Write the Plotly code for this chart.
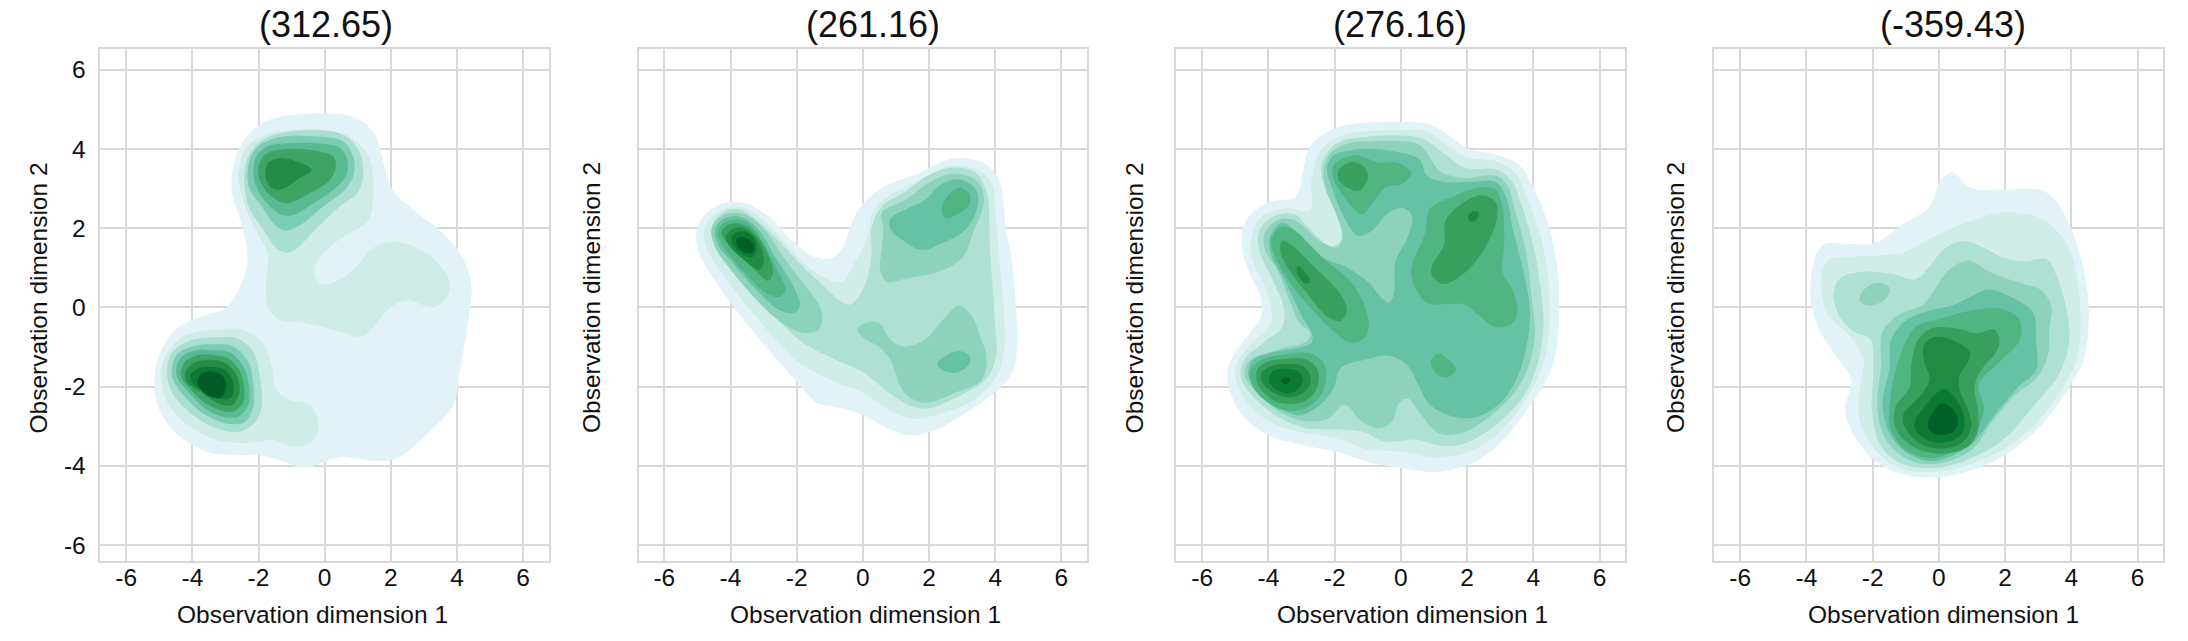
import plotly.graph_objects as go

# ---- text -------------------------------------------------------------
panel_titles = ["(312.65)", "(261.16)", "(276.16)", "(-359.43)"]
x_label = "Observation dimension 1"
y_label = "Observation dimension 2"
tick_values = [-6, -4, -2, 0, 2, 4, 6]
tick_labels = ["-6", "-4", "-2", "0", "2", "4", "6"]

# ---- density band colours, light to dark -------------------------------
bands_panel1 = ["#e1f3f6", "#cfede6", "#a9dfd1", "#7ccbb3", "#58ba90", "#3ca566", "#238c47", "#0a7a36", "#005c26"]
bands_other = ["#e1f3f7", "#d0eee7", "#aee0d3", "#8dd3bc", "#66c2a4", "#4fb581", "#38a05f", "#1f8b45", "#0a7a35", "#005f27"]

# ---- density contours, (dim1, dim2) -----------------------------------
# Panel 1
p1_l1 = [(0,4.9),(.98,4.77),(1.52,4.36),(1.79,3.63),(2.06,2.96),(2.71,2.45),(3.57,1.88),(4.17,1.26),(4.44,.54),(4.33,-.39),(4.06,-1.73),(3.9,-2.46),(3.25,-3.08),(2.39,-3.7),(1.9,-3.87),(.98,-3.82),(.55,-3.77),(0,-3.9),(-.64,-4.04),(-1.29,-3.88),(-1.99,-3.73),(-2.8,-3.73),(-3.55,-3.65),(-4.42,-3.23),(-5.01,-2.56),(-5.15,-1.84),(-4.96,-1.12),(-4.42,-.5),(-3.66,-.21),(-3.01,-.03),(-2.58,.49),(-2.33,1.16),(-2.47,1.98),(-2.8,2.91),(-2.74,3.64),(-2.36,4.31),(-1.72,4.72),(-.85,4.87)]
p1_l2a = [(0,4.48),(.87,4.25),(1.36,3.74),(1.47,2.91),(1.31,2.19),(.55,1.78),(-.1,1.31),(-.31,.95),(-.15,.59),(.44,.69),(.98,1.05),(1.41,1.47),(1.95,1.65),(2.6,1.57),(3.25,1.26),(3.74,.74),(3.74,.33),(3.3,0),(2.49,.18),(1.95,-.03),(1.47,-.5),(1.09,-.75),(.44,-.6),(-.64,-.39),(-1.39,-.29),(-1.72,.02),(-1.77,.64),(-1.72,1.36),(-2.04,1.88),(-2.47,2.71),(-2.6,3.43),(-2.36,4.05),(-1.72,4.38),(-.85,4.48)]
p1_l2b = [(-3.27,-.56),(-2.46,-.57),(-1.85,-.91),(-1.6,-1.5),(-1.45,-2.09),(-1.05,-2.34),(-.44,-2.47),(-.19,-2.93),(-.34,-3.35),(-.95,-3.52),(-1.55,-3.35),(-2.36,-3.43),(-3.27,-3.35),(-4.07,-3.01),(-4.68,-2.51),(-4.93,-1.92),(-4.83,-1.25),(-4.27,-.74)]
p1_l3a = [(-.04,4.47),(.56,4.36),(1.02,3.98),(1.17,3.48),(1.02,2.93),(.46,2.55),(-.34,1.92),(-.84,1.49),(-1.15,1.38),(-1.45,1.49),(-1.85,1.96),(-2.3,2.55),(-2.43,3.14),(-2.35,3.73),(-1.95,4.19),(-1.15,4.43)]
p1_l3b = [(-3.37,-.76),(-2.66,-.78),(-2.16,-1.12),(-1.96,-1.75),(-1.89,-2.42),(-2.06,-2.85),(-2.56,-3.14),(-3.27,-3.06),(-3.97,-2.72),(-4.53,-2.26),(-4.76,-1.75),(-4.63,-1.16),(-4.07,-.84)]
p1_l4a = [(-.04,4.3),(.56,4.19),(.86,3.81),(.88,3.35),(.61,2.97),(-.04,2.55),(-.74,2.08),(-1.2,1.94),(-1.5,2.08),(-1.9,2.55),(-2.28,3.01),(-2.31,3.56),(-2.05,4.04),(-1.35,4.3)]
p1_l4b = [(-3.37,-.93),(-2.76,-.99),(-2.31,-1.37),(-2.16,-1.92),(-2.16,-2.51),(-2.41,-2.89),(-2.96,-2.93),(-3.67,-2.68),(-4.27,-2.21),(-4.62,-1.71),(-4.48,-1.2),(-3.97,-.98)]
p1_l5a = [(-.04,4.13),(.46,4.03),(.68,3.73),(.66,3.35),(.36,3.04),(-.24,2.68),(-.94,2.34),(-1.25,2.32),(-1.6,2.51),(-2.0,2.93),(-2.15,3.35),(-2.07,3.81),(-1.75,4.06),(-.95,4.15)]
p1_l5b = [(-3.37,-1.08),(-2.86,-1.14),(-2.46,-1.5),(-2.29,-1.96),(-2.31,-2.47),(-2.61,-2.76),(-3.06,-2.76),(-3.62,-2.55),(-4.12,-2.13),(-4.48,-1.71),(-4.37,-1.29),(-3.92,-1.09)]
p1_l6a = [(-.14,3.94),(.26,3.81),(.34,3.56),(.16,3.22),(-.44,2.89),(-1.15,2.63),(-1.6,2.8),(-1.95,3.18),(-2.0,3.52),(-1.8,3.86),(-1.15,4.0)]
p1_l6b = [(-3.37,-1.2),(-2.91,-1.29),(-2.56,-1.62),(-2.43,-2.05),(-2.48,-2.42),(-2.76,-2.63),(-3.17,-2.59),(-3.67,-2.38),(-4.07,-2.05),(-4.35,-1.71),(-4.22,-1.37),(-3.82,-1.2)]
p1_l7a = [(-1.35,3.77),(-.89,3.69),(-.39,3.48),(-.84,3.22),(-1.35,2.97),(-1.65,3.05),(-1.8,3.35),(-1.7,3.65)]
p1_l7b = [(-3.42,-1.33),(-2.96,-1.43),(-2.64,-1.75),(-2.58,-2.17),(-2.81,-2.47),(-3.22,-2.42),(-3.77,-2.13),(-4.17,-1.88),(-4.22,-1.67),(-3.97,-1.41)]
p1_l8 = [(-3.47,-1.5),(-3.01,-1.58),(-2.76,-1.92),(-2.81,-2.26),(-3.17,-2.31),(-3.62,-2.13),(-4.02,-1.88),(-4.07,-1.71),(-3.82,-1.54)]
p1_l9 = [(-3.52,-1.62),(-3.11,-1.71),(-2.98,-1.96),(-3.11,-2.26),(-3.42,-2.27),(-3.72,-2.09),(-3.85,-1.88),(-3.77,-1.71)]

# Panel 2
p2_l1 = [(2.7,3.76),(3.53,3.69),(4.05,3.33),(4.26,2.6),(4.31,1.98),(4.47,1.36),(4.63,.02),(4.66,-1.01),(4.52,-1.63),(4.05,-2.1),(3.01,-2.72),(2.08,-3.13),(1.46,-3.23),(.83,-3.08),(0,-2.72),(-.83,-2.51),(-1.4,-2.41),(-1.87,-1.99),(-2.7,-1.22),(-3.53,-.39),(-4.26,.43),(-4.89,1.26),(-5.04,1.83),(-4.83,2.29),(-4.31,2.6),(-3.64,2.65),(-2.91,2.34),(-2.18,1.72),(-1.56,1.31),(-.94,1.24),(-.57,1.57),(-.26,2.29),(.16,2.76),(.83,3.12),(1.66,3.38)]
p2_l2 = [(2.7,3.58),(3.43,3.48),(3.9,3.12),(4.0,2.5),(4.11,1.36),(4.26,-.08),(4.28,-1.01),(4.05,-1.73),(3.33,-2.35),(2.18,-2.72),(1.56,-2.82),(.83,-2.61),(0,-2.15),(-.83,-1.89),(-1.87,-1.43),(-2.7,-.75),(-3.53,.07),(-4.26,.85),(-4.73,1.52),(-4.8,1.93),(-4.57,2.29),(-4.05,2.53),(-3.53,2.5),(-2.91,2.14),(-2.18,1.47),(-1.46,.9),(-.62,.64),(-.31,1.05),(.1,1.67),(.36,2.5),(.99,2.91),(1.98,3.33)]
p2_l3 = [(2.81,3.53),(3.43,3.38),(3.74,2.91),(3.85,1.36),(4.0,-.5),(4.03,-1.22),(3.74,-1.79),(3.01,-2.2),(1.87,-2.56),(1.25,-2.41),(.62,-2.04),(0,-1.63),(-.83,-1.32),(-1.87,-.86),(-2.7,-.19),(-3.53,.64),(-4.26,1.31),(-4.57,1.78),(-4.52,2.14),(-4.11,2.45),(-3.64,2.45),(-2.91,1.98),(-2.08,1.26),(-1.25,.59),(-.42,.07),(.05,.54),(.26,1.36),(.26,1.98),(.57,2.55),(1.25,2.91),(2.08,3.38)]
p2_l4a = [(2.81,3.38),(3.48,3.17),(3.66,2.71),(3.33,1.88),(3.01,1.26),(2.29,.9),(1.35,.74),(.73,.64),(.52,.95),(.57,1.47),(.62,1.98),(.57,2.39),(1.25,2.7),(2.14,3.22)]
p2_l4b = [(2.91,.04),(3.27,-.19),(3.58,-.81),(3.74,-1.27),(3.58,-1.84),(2.81,-2.15),(1.87,-2.41),(1.25,-2.15),(.83,-1.32),(.52,-1.01),(0,-.75),(-.16,-.55),(.1,-.39),(.47,-.39),(.83,-.81),(1.25,-.99),(1.87,-.81),(2.39,-.34)]
p2_l4c = [(-1.22,-.24),(-1.35,-.57),(-1.8,-.64),(-2.5,-.36),(-3.31,.27),(-4.02,.98),(-4.47,1.53),(-4.57,1.96),(-4.37,2.25),(-3.92,2.39),(-3.42,2.29),(-2.91,1.91),(-2.41,1.28),(-1.8,.61),(-1.35,.1)]
p2_l5a = [(2.91,3.23),(3.38,3.02),(3.48,2.6),(3.12,1.98),(2.39,1.62),(1.77,1.45),(1.25,1.67),(.83,1.98),(.83,2.24),(1.35,2.5),(1.87,2.71),(2.39,3.12)]
p2_l5b = [(2.91,-1.1),(3.22,-1.22),(3.22,-1.43),(2.81,-1.65),(2.39,-1.58),(2.25,-1.43),(2.55,-1.2)]
p2_l5c = [(-1.9,.06),(-2.05,-.13),(-2.51,-.07),(-3.21,.44),(-3.92,1.11),(-4.37,1.57),(-4.47,1.95),(-4.27,2.21),(-3.87,2.31),(-3.46,2.2),(-3.06,1.87),(-2.66,1.28),(-2.2,.69)]
p2_l6a = [(2.91,3.03),(3.22,2.86),(3.22,2.6),(2.91,2.38),(2.49,2.26),(2.39,2.5),(2.55,2.81)]
p2_l6c = [(-2.33,.44),(-2.51,.27),(-2.91,.35),(-3.51,.82),(-4.07,1.36),(-4.34,1.7),(-4.37,1.95),(-4.17,2.16),(-3.82,2.22),(-3.46,2.12),(-3.11,1.78),(-2.76,1.24),(-2.46,.73)]
p2_l7 = [(-2.71,.9),(-2.86,.67),(-3.21,.9),(-3.72,1.32),(-4.17,1.7),(-4.27,1.91),(-4.07,2.08),(-3.77,2.12),(-3.41,1.99),(-3.11,1.7),(-2.86,1.32)]
p2_l8 = [(-2.99,1.2),(-3.11,.96),(-3.51,1.15),(-3.97,1.49),(-4.14,1.74),(-3.97,1.97),(-3.67,2.02),(-3.31,1.83),(-3.11,1.57)]
p2_l9 = [(-3.21,1.55),(-3.31,1.28),(-3.62,1.32),(-3.92,1.57),(-3.97,1.77),(-3.82,1.89),(-3.56,1.91),(-3.33,1.78)]
p2_l10 = [(-3.28,1.57),(-3.33,1.38),(-3.56,1.38),(-3.8,1.57),(-3.82,1.72),(-3.67,1.78),(-3.45,1.72)]

# Panel 3
p3_l1 = [(0,4.69),(.88,4.62),(1.51,4.31),(2.03,4.0),(2.86,3.86),(3.59,3.58),(4.0,3.02),(4.42,2.19),(4.73,.95),(4.78,-.19),(4.63,-1.32),(4.31,-1.99),(3.9,-2.46),(3.17,-3.28),(2.44,-3.8),(1.72,-4.06),(.99,-4.16),(.05,-4.06),(-.99,-3.9),(-1.92,-3.65),(-2.86,-3.49),(-4,-3.23),(-4.73,-2.77),(-5.15,-2.15),(-5.23,-1.58),(-4.99,-1.12),(-4.52,-.6),(-4.21,-.19),(-4.26,.33),(-4.57,.85),(-4.8,1.57),(-4.68,2.19),(-4,2.65),(-3.17,2.81),(-2.96,3.43),(-2.75,4.05),(-2.03,4.51),(-.99,4.67)]
p3_l2 = [(0,4.48),(.78,4.44),(1.4,4.1),(1.98,3.79),(2.86,3.69),(3.48,3.38),(3.79,2.81),(4.16,1.98),(4.42,.95),(4.5,-.19),(4.37,-1.22),(3.9,-2.15),(3.07,-3.08),(2.34,-3.54),(1.61,-3.75),(.88,-3.78),(.05,-3.65),(-.99,-3.59),(-1.82,-3.34),(-2.86,-3.18),(-3.9,-2.92),(-4.63,-2.41),(-4.94,-1.94),(-4.99,-1.53),(-4.63,-1.01),(-4,-.5),(-3.9,-.19),(-4.11,.54),(-4.47,1.16),(-4.54,1.67),(-4.21,2.29),(-3.48,2.5),(-2.75,2.45),(-2.7,3.22),(-2.44,3.95),(-1.72,4.36),(-.78,4.46)]
p3_l3 = [(0,4.34),(.68,4.25),(1.3,3.89),(1.92,3.53),(2.86,3.48),(3.33,3.22),(3.64,2.6),(4,1.57),(4.21,.54),(4.31,-.39),(4.16,-1.32),(3.74,-2.2),(2.86,-2.97),(1.92,-3.44),(1.2,-3.49),(.47,-3.34),(-.47,-3.39),(-1.2,-3.13),(-2.23,-3.08),(-2.96,-3.03),(-3.9,-2.66),(-4.52,-2.2),(-4.84,-1.73),(-4.72,-1.32),(-4.11,-.86),(-3.59,-.5),(-3.53,-.03),(-3.9,.74),(-4.29,1.47),(-4.26,1.98),(-3.74,2.34),(-3.17,2.34),(-2.86,2.09),(-2.13,1.55),(-1.77,1.72),(-1.92,2.29),(-2.34,3.12),(-2.39,3.64),(-1.92,4.15),(-.99,4.31)]
p3_l4 = [(0,4.2),(.57,4.1),(1.2,3.43),(1.92,3.27),(2.86,3.33),(3.22,3.07),(3.43,2.5),(3.79,1.36),(3.95,.23),(4.05,-.7),(3.79,-1.63),(3.38,-2.2),(2.65,-2.77),(1.82,-3.18),(1.14,-3.18),(.57,-2.66),(.21,-2.3),(-.05,-2.41),(-.26,-2.87),(-.68,-3.06),(-1.2,-2.87),(-1.69,-2.46),(-2.23,-2.82),(-2.96,-2.87),(-3.79,-2.56),(-4.31,-2.15),(-4.72,-1.73),(-4.6,-1.37),(-3.69,-1.06),(-2.86,-.86),(-2.73,-.65),(-3.07,-.39),(-3.33,.12),(-3.74,.95),(-4.11,1.47),(-4.11,1.88),(-3.69,2.22),(-3.17,2.19),(-2.44,1.67),(-1.92,1.52),(-1.77,1.78),(-1.92,2.29),(-2.23,2.91),(-2.34,3.43),(-2.13,3.89),(-1.51,4.15),(-.68,4.2)]
p3_l5 = [(-1.51,3.97),(-.68,4.0),(.05,3.89),(.57,3.74),(.78,3.33),(1.3,3.17),(2.13,3.17),(2.86,3.17),(3.17,2.81),(3.38,1.98),(3.69,.95),(3.9,-.08),(3.79,-1.01),(3.48,-1.84),(3.01,-2.41),(2.34,-2.75),(1.72,-2.79),(.88,-2.46),(.52,-1.94),(.16,-1.43),(-.36,-1.22),(-1.09,-1.32),(-1.82,-1.53),(-2.03,-2.04),(-2.44,-2.46),(-3.07,-2.72),(-3.79,-2.45),(-4.21,-2.1),(-4.6,-1.73),(-4.5,-1.35),(-3.9,-1.14),(-3.07,-1.01),(-2.7,-.89),(-2.67,-.7),(-3.01,-.19),(-3.48,.64),(-3.93,1.36),(-3.95,1.78),(-3.59,2.14),(-2.86,1.67),(-2.34,1.26),(-1.61,1.0),(-.99,.64),(-.57,.23),(-.36,.12),(-.21,.33),(-.16,1.16),(.21,1.78),(.34,2.29),(.1,2.5),(-.36,2.4),(-.88,1.93),(-1.3,1.81),(-1.66,2.19),(-2.03,2.91),(-2.23,3.53),(-2.03,3.84)]
p3_l6a = [(-1.4,3.84),(-.68,3.66),(-.05,3.64),(.31,3.38),(.05,3.12),(-.47,3.02),(-.88,2.6),(-1.18,2.35),(-1.5,2.56),(-1.82,2.92),(-2.03,3.23),(-2.03,3.59)]
p3_l6b = [(2.34,3.02),(2.86,2.97),(3.07,2.5),(3.12,1.57),(3.07,.9),(3.38,.43),(3.53,-.08),(3.38,-.39),(2.86,-.5),(2.34,-.19),(1.92,.07),(.78,.12),(.42,.54),(.31,.95),(.73,1.88),(.88,2.5),(1.61,2.81)]
p3_l6c = [(1.14,-1.17),(1.51,-1.37),(1.66,-1.58),(1.4,-1.76),(1.09,-1.68),(.91,-1.37)]
p3_l6d = [(-3.64,2.03),(-3.28,1.98),(-2.44,1.31),(-1.51,.64),(-1.2,.23),(-.97,-.39),(-1.09,-.75),(-1.51,-.89),(-2.03,-.6),(-2.65,-.08),(-3.28,.54),(-3.79,1.27),(-3.92,1.68)]
p3_l6e = [(-3.46,-1.18),(-2.76,-1.16),(-2.36,-1.37),(-2.26,-1.75),(-2.41,-2.21),(-2.91,-2.55),(-3.56,-2.59),(-4.17,-2.3),(-4.52,-1.92),(-4.52,-1.54),(-4.12,-1.29)]
p3_l7a = [(-1.46,3.67),(-1.09,3.53),(-.99,3.27),(-1.25,2.96),(-1.56,3.0),(-1.87,3.22),(-1.87,3.48)]
p3_l7b = [(2.44,2.83),(2.86,2.65),(2.91,2.29),(2.65,1.67),(2.03,.95),(1.3,.59),(.94,.8),(.94,1.05),(1.3,1.57),(1.35,2.19),(1.72,2.55)]
p3_l7d = [(-3.59,1.67),(-3.33,1.59),(-2.65,1.05),(-1.82,.33),(-1.63,-.08),(-1.82,-.34),(-2.23,-.23),(-2.86,.38),(-3.38,.95),(-3.64,1.42)]
p3_l7e = [(-3.46,-1.3),(-2.86,-1.31),(-2.54,-1.54),(-2.48,-1.83),(-2.66,-2.21),(-3.11,-2.42),(-3.67,-2.41),(-4.12,-2.17),(-4.35,-1.88),(-4.32,-1.54),(-3.97,-1.35)]
p3_l8b = [(2.18,2.43),(2.37,2.38),(2.29,2.22),(2.08,2.17),(2.03,2.31)]
p3_l8d = [(-3.07,1.03),(-2.86,.85),(-2.73,.64),(-2.91,.61),(-3.12,.83),(-3.15,1.0)]
p3_l8e = [(-3.46,-1.43),(-2.96,-1.48),(-2.74,-1.71),(-2.74,-1.92),(-2.96,-2.17),(-3.41,-2.27),(-3.82,-2.17),(-4.17,-1.92),(-4.22,-1.67),(-3.92,-1.48)]
p3_l9 = [(-3.51,-1.54),(-3.11,-1.62),(-2.96,-1.83),(-3.11,-2.07),(-3.46,-2.17),(-3.82,-2.05),(-3.99,-1.83),(-3.87,-1.62)]
p3_l10 = [(-3.51,-1.77),(-3.34,-1.83),(-3.48,-1.94),(-3.62,-1.85)]

# Panel 4
p4_l1 = [(.46,3.4),(.94,3.02),(1.94,2.98),(3.1,2.96),(3.52,2.71),(4.05,1.88),(4.42,.74),(4.53,-.19),(4.37,-1.32),(3.95,-1.99),(3.1,-2.97),(2.05,-3.7),(.99,-4.11),(-.06,-4.29),(-1.12,-4.21),(-1.96,-3.85),(-2.6,-3.18),(-2.83,-2.56),(-2.65,-1.84),(-3.12,-1.22),(-3.65,-.5),(-3.88,.33),(-3.7,1.36),(-3.39,1.62),(-2.7,1.6),(-1.96,1.62),(-1.01,2.14),(-.27,2.55),(-.01,3.12),(.25,3.36)]
p4_l2 = [(2.05,2.4),(3.1,2.24),(3.89,1.57),(4.21,.54),(4.28,-.5),(4.16,-1.32),(3.74,-2.04),(2.89,-2.97),(1.94,-3.59),(.99,-3.95),(-.06,-4.15),(-1.12,-4.08),(-1.86,-3.65),(-2.39,-2.87),(-2.39,-2.04),(-2.28,-1.32),(-2.7,-.7),(-3.34,-.19),(-3.55,.54),(-3.39,1.16),(-2.7,1.28),(-1.86,1.31),(-1.01,1.41),(-.06,1.83),(.99,2.19)]
p4_l3 = [(.68,1.67),(1.2,1.57),(1.94,1.26),(2.58,1.16),(3.26,1.21),(3.58,.74),(3.89,-.19),(3.93,-.91),(3.63,-1.68),(2.89,-2.46),(1.94,-3.34),(.99,-3.8),(-.06,-4.05),(-1.12,-3.95),(-1.75,-3.5),(-2.02,-2.66),(-1.98,-1.53),(-2.07,-.81),(-2.6,-.6),(-3.02,-.19),(-3.18,.33),(-2.97,.74),(-2.28,.9),(-1.44,.85),(-.7,.71),(-.27,1.05),(.15,1.47)]
p4_l4a = [(-1.86,.62),(-1.49,.49),(-1.59,.23),(-2.07,.04),(-2.39,.17),(-2.28,.43)]
p4_l4b = [(.89,1.19),(1.52,.9),(2.36,.64),(3.1,.43),(3.4,.02),(3.34,-.5),(3.29,-1.22),(2.94,-1.79),(2.31,-2.2),(1.63,-2.87),(.99,-3.6),(-.06,-3.95),(-.91,-3.85),(-1.59,-3.35),(-1.86,-2.56),(-1.75,-1.53),(-1.7,-.6),(-1.22,-.19),(-.49,.07),(-.06,.54),(.25,.9)]
p4_l5 = [(1.52,.45),(2.26,.23),(2.84,-.13),(2.94,-.91),(2.94,-1.58),(2.36,-2.04),(1.63,-2.77),(.99,-3.45),(-.06,-3.87),(-.8,-3.75),(-1.44,-3.25),(-1.7,-2.46),(-1.49,-1.53),(-1.44,-.81),(-1.01,-.34),(-.27,-.08),(.46,.07),(.99,.28)]
p4_l6 = [(1.84,-.03),(2.42,-.29),(2.45,-.81),(1.84,-1.37),(1.2,-1.94),(1.36,-2.56),(.99,-3.3),(-.06,-3.79),(-.91,-3.65),(-1.44,-3.1),(-1.44,-2.14),(-1.12,-1.11),(-.7,-.49),(.04,-.29),(.99,-.08)]
p4_l7 = [(-.23,-.53),(.53,-.53),(1.13,-.65),(1.68,-.57),(1.83,-.82),(1.73,-1.12),(1.28,-1.58),(1.08,-2),(1.18,-2.59),(1.18,-3.1),(.93,-3.48),(.23,-3.69),(-.68,-3.56),(-1.28,-3.1),(-1.33,-2.55),(-.88,-2),(-.83,-1.41),(-.63,-.82)]
p4_l8 = [(-.43,-.91),(-.08,-.74),(.53,-.87),(.93,-1.12),(.88,-1.37),(.63,-1.71),(.63,-2.09),(.88,-2.59),(.98,-3.01),(.73,-3.39),(.12,-3.56),(-.58,-3.43),(-1.03,-3.01),(-1.08,-2.72),(-.68,-2.34),(-.28,-1.83),(-.43,-1.41),(-.48,-1.08)]
p4_l9 = [(.18,-2.06),(.53,-2.34),(.76,-2.76),(.73,-3.14),(.38,-3.37),(-.18,-3.39),(-.68,-3.14),(-.73,-2.89),(-.43,-2.51),(-.13,-2.21)]
p4_l10 = [(.12,-2.42),(.43,-2.59),(.58,-2.84),(.43,-3.14),(.02,-3.22),(-.28,-3.1),(-.33,-2.89),(-.13,-2.59)]

# band number and outline, painted light to dark
panel1 = [(1,p1_l1),(2,p1_l2a),(2,p1_l2b),(3,p1_l3a),(3,p1_l3b),(4,p1_l4a),(4,p1_l4b),(5,p1_l5a),(5,p1_l5b),(6,p1_l6a),(6,p1_l6b),(7,p1_l7a),(7,p1_l7b),(8,p1_l8),(9,p1_l9)]
panel2 = [(1,p2_l1),(2,p2_l2),(3,p2_l3),(4,p2_l4a),(4,p2_l4b),(4,p2_l4c),(5,p2_l5a),(5,p2_l5b),(5,p2_l5c),(6,p2_l6a),(6,p2_l6c),(7,p2_l7),(8,p2_l8),(9,p2_l9),(10,p2_l10)]
panel3 = [(1,p3_l1),(2,p3_l2),(3,p3_l3),(4,p3_l4),(5,p3_l5),(6,p3_l6a),(6,p3_l6b),(6,p3_l6c),(6,p3_l6d),(6,p3_l6e),(7,p3_l7a),(7,p3_l7b),(7,p3_l7d),(7,p3_l7e),(8,p3_l8b),(8,p3_l8d),(8,p3_l8e),(9,p3_l9),(10,p3_l10)]
panel4 = [(1,p4_l1),(2,p4_l2),(3,p4_l3),(4,p4_l4a),(4,p4_l4b),(5,p4_l5),(6,p4_l6),(7,p4_l7),(8,p4_l8),(9,p4_l9),(10,p4_l10)]

# ---- layout in window pixels ------------------------------------------
W, H = 2188, 641
panel_left = [100.4, 638.5, 1176.4, 1714.4]
panel_right = [548.6, 1086.9, 1625.0, 2163.0]
panel_top, panel_bottom = 49.0, 560.5
title_cx = [325.5, 872.5, 1399.5, 1953.0]
xlabel_cx = [312.5, 865.0, 1412.7, 1943.7]
ylabel_cx = [37.5, 591.0, 1134.4, 1675.0]
xrange_ = [-6.78, 6.77]
yrange_ = [-6.39, 6.525]
GRID = "#d8d8d8"
FONT = "Liberation Sans"

def fx(px):
    return px / W

def fy(py):
    return 1 - py / H

fig = go.Figure()
for i, (panel, bands) in enumerate(zip([panel1, panel2, panel3, panel4],
                                       [bands_panel1, bands_other, bands_other, bands_other])):
    suffix = "" if i == 0 else str(i + 1)
    for band, outline in panel:
        xs = [p[0] for p in outline] + [outline[0][0]]
        ys = [p[1] for p in outline] + [outline[0][1]]
        fig.add_trace(go.Scatter(
            x=xs, y=ys, mode="lines", fill="toself", fillcolor=bands[band - 1],
            line=dict(width=0, shape="spline", smoothing=1.0, color=bands[band - 1]),
            hoverinfo="skip", showlegend=False,
            xaxis="x" + suffix, yaxis="y" + suffix))
    fig.layout["xaxis" + suffix] = dict(
        domain=[fx(panel_left[i]), fx(panel_right[i])], range=xrange_, anchor="y" + suffix,
        tickmode="array", tickvals=tick_values, ticktext=tick_labels,
        showgrid=True, gridcolor=GRID, gridwidth=1.6, zeroline=False,
        showline=True, linecolor=GRID, linewidth=1.6, mirror=True,
        ticks="", ticklabelstandoff=-6,
        tickfont=dict(family=FONT, size=24.5, color="#111111"))
    fig.layout["yaxis" + suffix] = dict(
        domain=[fy(panel_bottom), fy(panel_top)], range=yrange_, anchor="x" + suffix,
        tickmode="array", tickvals=tick_values, ticktext=tick_labels, showticklabels=(i == 0),
        showgrid=True, gridcolor=GRID, gridwidth=1.6, zeroline=False,
        showline=True, linecolor=GRID, linewidth=1.6, mirror=True,
        ticks="outside" if i == 0 else "", ticklen=8, tickcolor="rgba(0,0,0,0)",
        tickfont=dict(family=FONT, size=24.5, color="#111111"))
    fig.add_annotation(text=panel_titles[i], xref="paper", yref="paper", showarrow=False,
                       x=fx(title_cx[i]), y=fy(24), xanchor="center", yanchor="middle",
                       font=dict(family=FONT, size=36, color="#111111"))
    fig.add_annotation(text=x_label, xref="paper", yref="paper", showarrow=False,
                       x=fx(xlabel_cx[i]), y=fy(614), xanchor="center", yanchor="middle",
                       font=dict(family=FONT, size=24.5, color="#111111"))
    fig.add_annotation(text=y_label, xref="paper", yref="paper", showarrow=False, textangle=-90,
                       x=fx(ylabel_cx[i]), y=fy(298), xanchor="center", yanchor="middle",
                       font=dict(family=FONT, size=24.5, color="#111111"))

fig.update_layout(width=W, height=H, margin=dict(l=0, r=0, t=0, b=0),
                  paper_bgcolor="white", plot_bgcolor="white", showlegend=False)
fig.write_html("out.html", config={"displayModeBar": False},
               post_script="document.body.style.margin='0';document.documentElement.style.overflow='hidden';")
